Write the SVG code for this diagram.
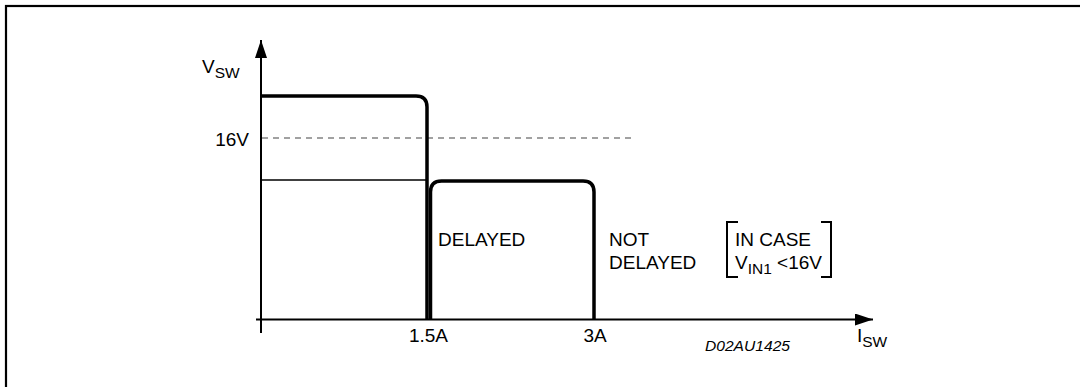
<svg xmlns="http://www.w3.org/2000/svg" width="1080" height="387" viewBox="0 0 1080 387">
<style>
text{font-family:"Liberation Sans",Arial,sans-serif;font-size:19px;fill:#000}
.sub{font-size:15.5px}
.axis{stroke:#000;stroke-width:2;fill:none}
.curve{stroke:#000;stroke-width:3.5;fill:none}
.thin{stroke:#000;stroke-width:1.5;fill:none}
.dash{stroke:#444;stroke-width:1.2;stroke-dasharray:6 5;fill:none}
.br{stroke:#000;stroke-width:2;fill:none}
</style>
<defs>
<marker id="arr" markerWidth="18" markerHeight="12" refX="18" refY="6" orient="auto" markerUnits="userSpaceOnUse">
<path d="M0,0 L18,6 L0,12 Z" fill="#000"/>
</marker>
</defs>
<rect width="1080" height="387" fill="#fff"/>
<rect x="6" y="6" width="1090" height="400" fill="none" stroke="#000" stroke-width="2.2"/>
<g id="connectors">
<path class="axis" d="M261,333 V40" marker-end="url(#arr)"/>
<path class="axis" d="M256,319.5 H873" marker-end="url(#arr)"/>
<path class="dash" d="M262,138 H632"/>
<path class="thin" d="M262,180 H428"/>
<path class="curve" d="M262,96 H416 Q427,96 427,107 V319"/>
<path class="curve" d="M430.5,319 V192 Q430.5,181 441.5,181 H583 Q594,181 594,192 V319"/>
<path class="br" d="M738,222 H727 V277 H738"/>
<path class="br" d="M821,222 H831 V277 H821"/>
</g>
<g id="labels">
<text x="202" y="73">V<tspan class="sub" dy="5">SW</tspan></text>
<text x="249" y="146" text-anchor="end">16V</text>
<text x="428.5" y="342" text-anchor="middle">1.5A</text>
<text x="595" y="342" text-anchor="middle">3A</text>
<text x="857" y="342">I<tspan class="sub" dy="5">SW</tspan></text>
<text x="705" y="351" style="font-size:14px;font-style:italic" textLength="85" lengthAdjust="spacingAndGlyphs">D02AU1425</text>
<text x="438" y="246">DELAYED</text>
<text x="609" y="246">NOT</text>
<text x="609" y="269">DELAYED</text>
<text x="735" y="246">IN CASE</text>
<text x="735" y="269">V<tspan class="sub" dy="5">IN1</tspan><tspan dy="-5"> &lt;16V</tspan></text>
</g>
</svg>
